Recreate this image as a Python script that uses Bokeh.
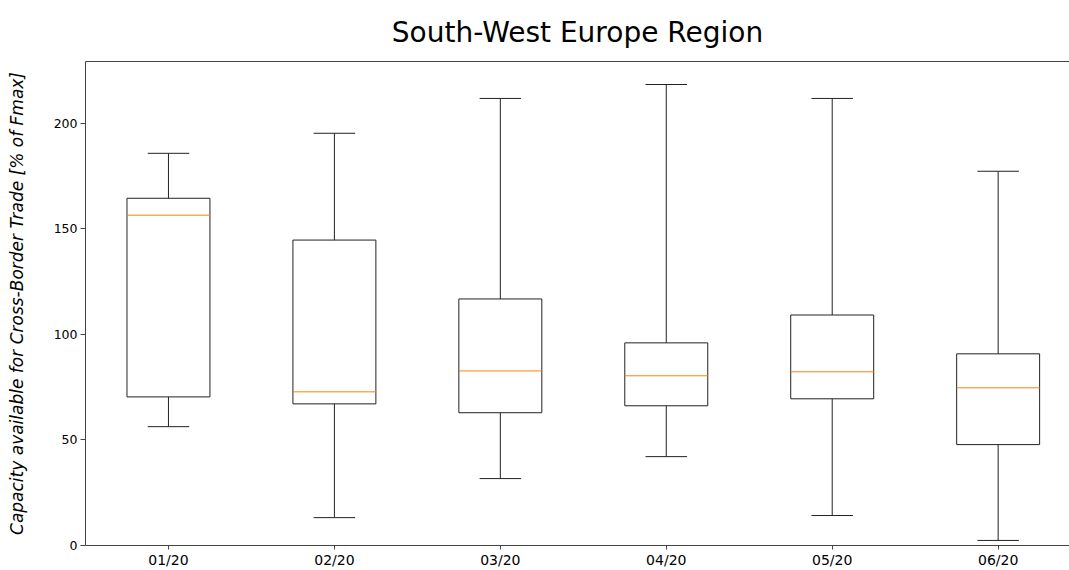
from bokeh.plotting import figure
from bokeh.models import Range1d, FixedTicker, LinearAxis
from bokeh.embed import file_html
from bokeh.resources import INLINE
import numpy as np

months = ["01/20", "02/20", "03/20", "04/20", "05/20", "06/20"]
whisker_low = [56.3, 13.2, 31.7, 42.1, 14.2, 2.4]
q1 = [70.4, 67.1, 62.9, 66.2, 69.5, 47.8]
median = [156.5, 72.8, 82.7, 80.4, 82.3, 74.7]
q3 = [164.5, 144.7, 116.8, 96.0, 109.2, 90.8]
whisker_high = [185.8, 195.3, 211.8, 218.4, 211.8, 177.3]
y_ticks = [0, 50, 100, 150, 200]
title_text = "South-West Europe Region"

pos = np.arange(1, len(months) + 1)
box_w = 0.5
cap_w = 0.25

p = figure(width=1069, height=570, output_backend="svg", toolbar_location=None,
           x_range=Range1d(0.5, 6.43), y_range=Range1d(0, 229.3),
           min_border_left=85, min_border_right=0, min_border_top=61, min_border_bottom=24)
p.title.text = title_text
p.title.text_font = "DejaVu Sans"
p.title.text_font_size = "28px"
p.title.text_font_style = "normal"
p.title.align = "center"
p.title.offset = 5
p.title.standoff = 26
p.title.text_color = "black"

p.grid.visible = False
p.outline_line_color = None
p.background_fill_color = "white"
p.border_fill_color = "white"

top_axis = LinearAxis(major_tick_line_color=None, minor_tick_line_color=None,
                      major_label_text_font_size="0px", major_label_standoff=0,
                      major_tick_out=0, major_tick_in=0, axis_line_color="#444",
                      ticker=FixedTicker(ticks=[]))
p.add_layout(top_axis, "above")

ax = p.below[0]
ax.ticker = FixedTicker(ticks=list(pos))
ax.major_label_overrides = {int(i): m for i, m in zip(pos, months)}
ax.major_label_text_font = "DejaVu Sans"
ax.major_label_text_font_size = "14px"
ax.major_label_text_color = "black"
ax.major_tick_out = 4
ax.major_tick_in = 0
ax.minor_tick_line_color = None
ax.major_label_standoff = 2
ax.axis_line_color = "#444"
ax.major_tick_line_color = "#444"

ay = p.left[0]
ay.ticker = FixedTicker(ticks=y_ticks)
ay.major_label_text_font = "DejaVu Sans"
ay.major_label_text_font_size = "12.5px"
ay.major_label_text_color = "black"
ay.major_tick_out = 5
ay.major_tick_in = 0
ay.minor_tick_line_color = None
ay.major_label_standoff = 3
ay.axis_line_color = "#444"
ay.major_tick_line_color = "#444"
ay.axis_label = "Capacity available for Cross-Border Trade [% of Fmax]"
ay.axis_label_text_font = "DejaVu Sans"
ay.axis_label_text_font_size = "17px"
ay.axis_label_text_font_style = "italic"
ay.axis_label_text_color = "black"
ay.axis_label_standoff = 24

# whiskers
p.segment(pos, q3, pos, whisker_high, line_color="#222", line_width=1)
p.segment(pos, q1, pos, whisker_low, line_color="#222", line_width=1)
# caps
p.segment(pos - cap_w / 2, whisker_high, pos + cap_w / 2, whisker_high, line_color="#222", line_width=1)
p.segment(pos - cap_w / 2, whisker_low, pos + cap_w / 2, whisker_low, line_color="#222", line_width=1)
# boxes
p.vbar(x=pos, width=box_w, bottom=q1, top=q3, fill_color=None, line_color="#222", line_width=1)
# medians
p.segment(pos - box_w / 2, median, pos + box_w / 2, median, line_color="#ff7f0e", line_width=1)

open("out.html", "w").write(file_html(p, INLINE))
